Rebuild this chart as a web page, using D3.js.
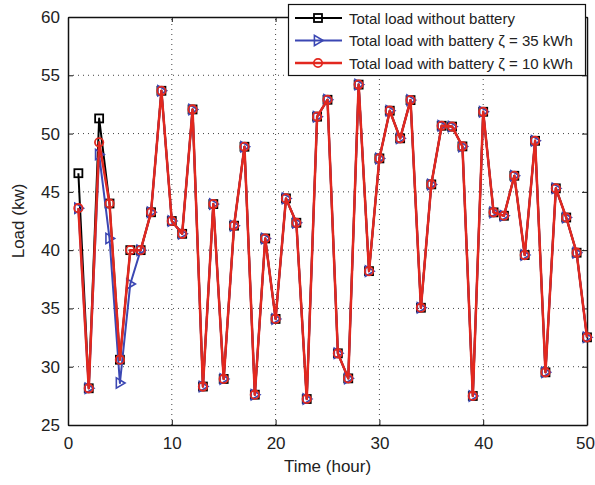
<!DOCTYPE html>
<html>
<head>
<meta charset="utf-8">
<script src="https://cdn.jsdelivr.net/npm/d3@7"></script>
<style>
  body { margin: 0; background: #fff; }
  text { font-family: "Liberation Sans", Arial, sans-serif; fill: #222; }
</style>
</head>
<body>
<div id="chart"></div>
<script>
var chart_width  = 595;
var chart_height = 485;
var margin = {left: 68, right: 8, top: 17, bottom: 60};

// hours 1..50
var hours = d3.range(1, 51);

// total load without battery
var load_none = [46.6, 28.15, 51.3, 44.0, 30.6, 40.0, 40.0, 43.25, 53.67, 42.5,
  41.4, 52.07, 28.3, 43.95, 28.95, 42.1, 48.87, 27.6, 41.0, 34.1,
  44.44, 42.35, 27.23, 51.45, 52.9, 31.15, 29.0, 54.2, 38.2, 47.87,
  51.96, 49.59, 52.87, 35.06, 45.64, 50.67, 50.6, 48.9, 27.49, 51.87,
  43.24, 42.95, 46.38, 39.58, 49.38, 29.52, 45.3, 42.8, 39.78, 32.52];

// with battery 35 kWh
var load_35 = [43.6, 28.15, 48.2, 41.0, 28.6, 37.1, 40.0, 43.25, 53.67, 42.5,
  41.4, 52.07, 28.3, 43.95, 28.95, 42.1, 48.87, 27.6, 41.0, 34.1,
  44.44, 42.35, 27.23, 51.45, 52.9, 31.15, 29.0, 54.2, 38.2, 47.87,
  51.96, 49.59, 52.87, 35.06, 45.64, 50.67, 50.6, 48.9, 27.49, 51.87,
  43.24, 42.95, 46.38, 39.58, 49.38, 29.52, 45.3, 42.8, 39.78, 32.52];

// with battery 10 kWh
var load_10 = [43.6, 28.15, 49.25, 44.0, 30.6, 40.0, 40.0, 43.25, 53.67, 42.5,
  41.4, 52.07, 28.3, 43.95, 28.95, 42.1, 48.87, 27.6, 41.0, 34.1,
  44.44, 42.35, 27.23, 51.45, 52.9, 31.15, 29.0, 54.2, 38.2, 47.87,
  51.96, 49.59, 52.87, 35.06, 45.64, 50.67, 50.6, 48.9, 27.49, 51.87,
  43.24, 42.95, 46.38, 39.58, 49.38, 29.52, 45.3, 42.8, 39.78, 32.52];

var x_ticks = [0, 10, 20, 30, 40, 50];
var y_ticks = [25, 30, 35, 40, 45, 50, 55, 60];
var legend_labels = [
  "Total load without battery",
  "Total load with battery \u03b6 = 35 kWh",
  "Total load with battery \u03b6 = 10 kWh"
];

var svg = d3.select("#chart")
  .append("svg")
  .attr("width", chart_width)
  .attr("height", chart_height);

var x = d3.scaleLinear().domain([0, 50]).range([margin.left, chart_width - margin.right]);
var y = d3.scaleLinear().domain([25, 60]).range([chart_height - margin.bottom, margin.top]);

var x0 = x.range()[0], x1 = x.range()[1];
var y0 = y.range()[0], y1 = y.range()[1];

// dotted grid
svg.append("g").selectAll("line.gx")
  .data(x_ticks.slice(1, -1)).enter()
  .append("line")
  .attr("x1", function(d){ return x(d); }).attr("x2", function(d){ return x(d); })
  .attr("y1", y0).attr("y2", y1)
  .attr("stroke", "#444").attr("stroke-width", 1)
  .attr("stroke-dasharray", "1,4");
svg.append("g").selectAll("line.gy")
  .data(y_ticks.slice(1, -1)).enter()
  .append("line")
  .attr("y1", function(d){ return y(d); }).attr("y2", function(d){ return y(d); })
  .attr("x1", x0).attr("x2", x1)
  .attr("stroke", "#444").attr("stroke-width", 1)
  .attr("stroke-dasharray", "1,4");

// axes (ticks inward, box style)
var xAxis = svg.append("g")
  .attr("transform", "translate(0," + y0 + ")")
  .call(d3.axisBottom(x).tickValues(x_ticks).tickSizeInner(-5).tickSizeOuter(0).tickPadding(12));
var yAxis = svg.append("g")
  .attr("transform", "translate(" + x0 + ",0)")
  .call(d3.axisLeft(y).tickValues(y_ticks).tickSizeInner(-5).tickSizeOuter(0).tickPadding(8));
svg.append("g")
  .attr("transform", "translate(0," + y1 + ")")
  .call(d3.axisTop(x).tickValues(x_ticks).tickSizeInner(-5).tickSizeOuter(0).tickFormat(""));
svg.append("g")
  .attr("transform", "translate(" + x1 + ",0)")
  .call(d3.axisRight(y).tickValues(y_ticks).tickSizeInner(-5).tickSizeOuter(0).tickFormat(""));

svg.selectAll(".domain").attr("stroke", "#111").attr("stroke-width", 1.5);
svg.selectAll(".tick line").attr("stroke", "#111");
xAxis.selectAll("text").style("font-size", "17px").attr("fill", "#222");
yAxis.selectAll("text").style("font-size", "17px").attr("fill", "#222");
// keep the last x label inside the page
xAxis.selectAll(".tick text").filter(function(d){ return d === 50; }).attr("dx", "-2");

// axis titles
svg.append("text")
  .attr("x", (x0 + x1) / 2).attr("y", 472)
  .attr("text-anchor", "middle")
  .style("font-size", "17px")
  .text("Time (hour)");
svg.append("text")
  .attr("transform", "translate(24," + ((y0 + y1) / 2) + ") rotate(-90)")
  .attr("text-anchor", "middle")
  .style("font-size", "17px")
  .text("Load (kw)");

var series = [
  {values: load_none, color: "#000000", width: 2, marker: "square"},
  {values: load_35, color: "#3b47b3", width: 2, marker: "triangle"},
  {values: load_10, color: "#e2281f", width: 2.5, marker: "circle"}
];

var line = d3.line()
  .x(function(d){ return x(d[0]); })
  .y(function(d){ return y(d[1]); });

var triangleRight = function(size) {
  return d3.symbol().type({
    draw: function(ctx, s) {
      var r = Math.sqrt(s) * 0.62;
      ctx.moveTo(r, 0);
      ctx.lineTo(-r * 0.7, -r);
      ctx.lineTo(-r * 0.7, r);
      ctx.closePath();
    }
  }).size(size);
};

function drawMarker(g, type, color, px, py) {
  if (type === "square") {
    g.append("rect")
      .attr("x", px - 4).attr("y", py - 4)
      .attr("width", 8).attr("height", 8)
      .attr("fill", "none").attr("stroke", color).attr("stroke-width", 1.8);
  } else if (type === "triangle") {
    g.append("path")
      .attr("d", triangleRight(68)())
      .attr("transform", "translate(" + px + "," + py + ")")
      .attr("fill", "none").attr("stroke", color).attr("stroke-width", 1.6);
  } else {
    g.append("circle")
      .attr("cx", px).attr("cy", py).attr("r", 4.2)
      .attr("fill", "none").attr("stroke", color).attr("stroke-width", 1.8);
  }
}

series.forEach(function(s){
  var pts = hours.map(function(h, i){ return [h, s.values[i]]; });
  var g = svg.append("g");
  g.append("path")
    .datum(pts)
    .attr("d", line)
    .attr("fill", "none")
    .attr("stroke", s.color)
    .attr("stroke-width", s.width)
    .attr("stroke-linejoin", "round");
  pts.forEach(function(p){
    drawMarker(g, s.marker, s.color, x(p[0]), y(p[1]));
  });
});

// legend
var lg = svg.append("g");
lg.append("rect")
  .attr("x", 288.5).attr("y", 4.5)
  .attr("width", 297).attr("height", 71)
  .attr("fill", "#fff").attr("stroke", "#111").attr("stroke-width", 1.2);
series.forEach(function(s, i){
  var ly = 18 + i * 22.5;
  lg.append("line")
    .attr("x1", 295).attr("x2", 342)
    .attr("y1", ly).attr("y2", ly)
    .attr("stroke", s.color).attr("stroke-width", s.width);
  drawMarker(lg, s.marker, s.color, 318, ly);
  lg.append("text")
    .attr("x", 349).attr("y", ly + 5.5)
    .style("font-size", "15px")
    .text(legend_labels[i]);
});
</script>
</body>
</html>
